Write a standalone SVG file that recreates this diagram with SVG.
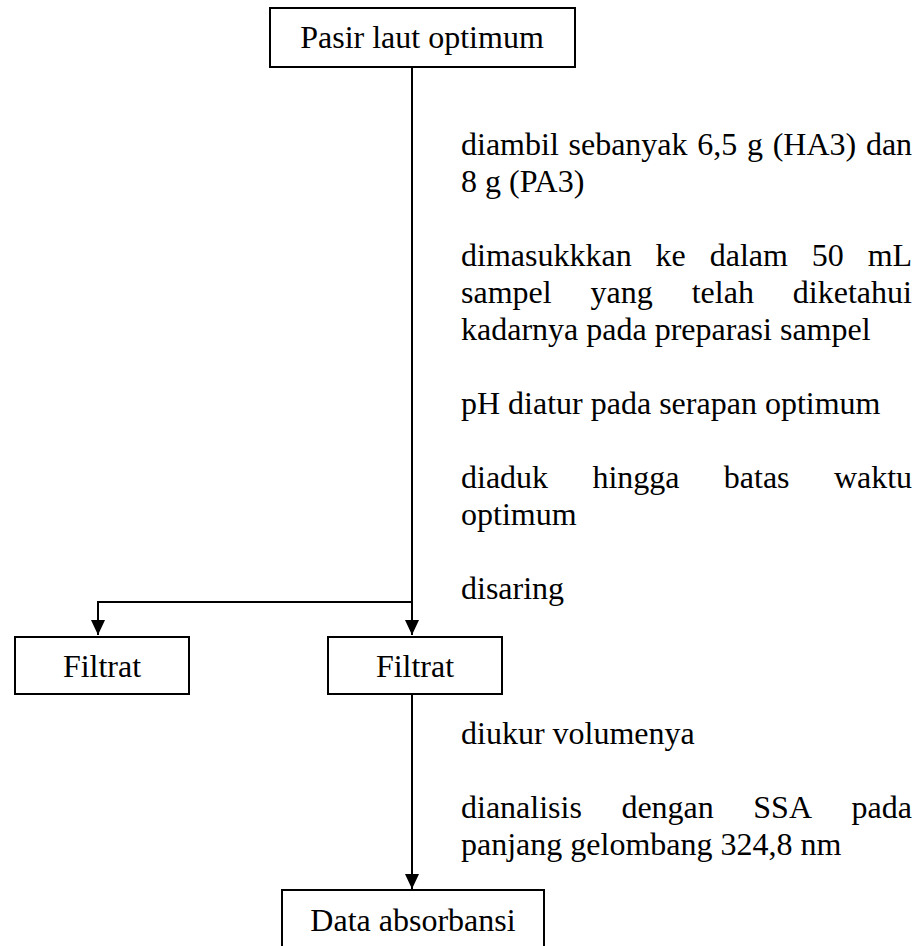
<svg xmlns="http://www.w3.org/2000/svg" width="924" height="946" viewBox="0 0 924 946">
  <style>
    text { font-family: "Liberation Serif", "Times New Roman", serif; font-size: 32px; fill: #000; }
    .box { fill: #fff; stroke: #000; stroke-width: 2; }
    .label { text-anchor: middle; }
    .wire { fill: none; stroke: #000; stroke-width: 2; }
  </style>
  <defs>
    <marker id="arrow" markerUnits="userSpaceOnUse" markerWidth="16" markerHeight="14" refX="15" refY="7" orient="auto">
      <path d="M0,0 L15,7 L0,14 z" fill="#000"/>
    </marker>
  </defs>
  <rect width="924" height="946" fill="#fff"/>

  <!-- connectors -->
  <g id="connectors">
    <path class="wire" d="M412,67 L412,635" marker-end="url(#arrow)"/>
    <path class="wire" d="M412,602 L98,602 L98,635" marker-end="url(#arrow)"/>
    <path class="wire" d="M412,694 L412,889" marker-end="url(#arrow)"/>
  </g>

  <!-- nodes -->
  <g id="node-pasir">
    <rect class="box" x="270" y="8" width="305" height="59"/>
    <text class="label" x="422" y="48">Pasir laut optimum</text>
  </g>
  <g id="node-filtrat-left">
    <rect class="box" x="15" y="637" width="174" height="57"/>
    <text class="label" x="102" y="677">Filtrat</text>
  </g>
  <g id="node-filtrat-right">
    <rect class="box" x="328" y="637" width="174" height="57"/>
    <text class="label" x="415" y="677">Filtrat</text>
  </g>
  <g id="node-data">
    <rect class="box" x="282" y="890" width="262" height="70"/>
    <text class="label" x="413" y="931">Data absorbansi</text>
  </g>

  <!-- step notes beside the main line (justified by word positions) -->
  <g id="steps">
    <text y="155"><tspan x="461">diambil</tspan><tspan x="568.5">sebanyak</tspan><tspan x="697.3">6,5</tspan><tspan x="747">g</tspan><tspan x="772.7">(HA3)</tspan><tspan x="865.9">dan</tspan></text>
    <text x="461" y="192">8 g (PA3)</text>

    <text y="266"><tspan x="461">dimasukkkan</tspan><tspan x="655.6">ke</tspan><tspan x="709.7">dalam</tspan><tspan x="811.8">50</tspan><tspan x="867.7">mL</tspan></text>
    <text y="303"><tspan x="461">sampel</tspan><tspan x="590.6">yang</tspan><tspan x="691.7">telah</tspan><tspan x="792.8">diketahui</tspan></text>
    <text x="461" y="340">kadarnya pada preparasi sampel</text>

    <text x="461" y="414">pH diatur pada serapan optimum</text>

    <text y="488"><tspan x="461">diaduk</tspan><tspan x="592.4">hingga</tspan><tspan x="723.8">batas</tspan><tspan x="833.9">waktu</tspan></text>
    <text x="461" y="525">optimum</text>

    <text x="461" y="599">disaring</text>

    <text x="461" y="744">diukur volumenya</text>

    <text y="818"><tspan x="461">dianalisis</tspan><tspan x="621.4">dengan</tspan><tspan x="753.3">SSA</tspan><tspan x="851.5">pada</tspan></text>
    <text x="461" y="855">panjang gelombang 324,8 nm</text>
  </g>
</svg>
